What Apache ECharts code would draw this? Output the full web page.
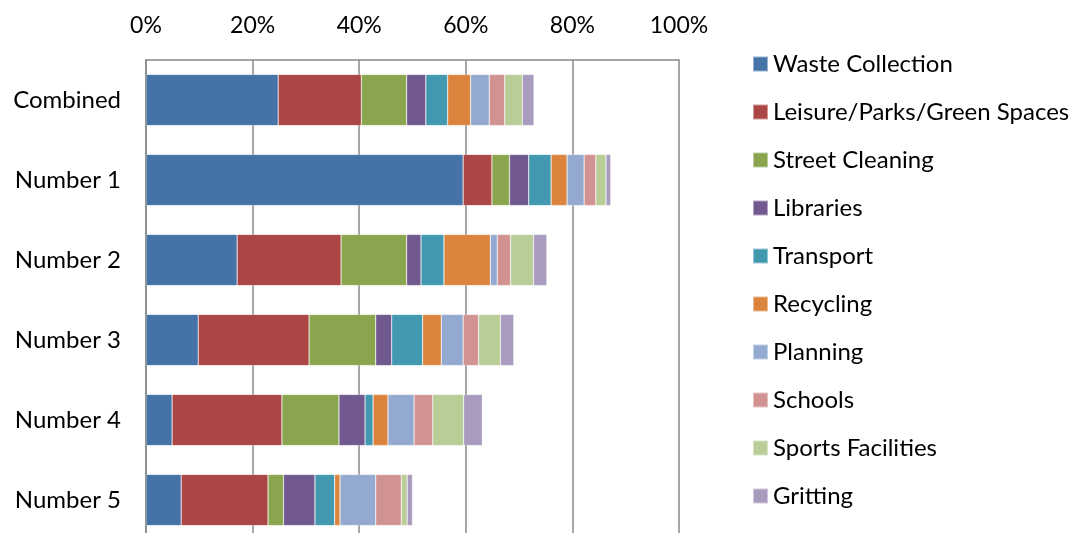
<!DOCTYPE html>
<html>
<head>
<meta charset="utf-8">
<script src="https://cdn.jsdelivr.net/npm/echarts@6/dist/echarts.min.js"></script>
<style>
  html, body { margin: 0; padding: 0; background: #ffffff; overflow: hidden; }
  /* a bit taller than the window: the last bar is cut off at the bottom, as in the original */
  #chart { width: 1077px; height: 545px; }
</style>
</head>
<body>
<div id="chart"></div>
<script>
  // categories, top to bottom
  const categories = ['Combined', 'Number 1', 'Number 2', 'Number 3', 'Number 4', 'Number 5'];
  const serviceNames = ['Waste Collection', 'Leisure/Parks/Green Spaces', 'Street Cleaning', 'Libraries',
    'Transport', 'Recycling', 'Planning', 'Schools', 'Sports Facilities', 'Gritting'];

  // percentages per service, in category order
  const wasteCollection = [24.8, 59.5, 17.1, 9.8, 4.9, 6.6];
  const leisure = [15.6, 5.4, 19.5, 20.8, 20.6, 16.3];
  const streetCleaning = [8.5, 3.3, 12.3, 12.5, 10.7, 2.9];
  const libraries = [3.6, 3.6, 2.7, 3.0, 4.9, 5.9];
  const transport = [4.1, 4.2, 4.3, 5.8, 1.5, 3.7];
  const recycling = [4.3, 3.0, 8.7, 3.5, 2.8, 1.0];
  const planning = [3.5, 3.2, 1.3, 4.1, 4.9, 6.7];
  const schools = [2.9, 2.2, 2.5, 2.9, 3.5, 4.8];
  const sportsFacilities = [3.3, 1.9, 4.3, 4.1, 5.8, 1.1];
  const gritting = [2.2, 0.9, 2.5, 2.5, 3.5, 1.0];

  const xTicks = [0, 20, 40, 60, 80, 100];

  const seriesValues = [wasteCollection, leisure, streetCleaning, libraries, transport,
    recycling, planning, schools, sportsFacilities, gritting];

  const colors = ['#4572A7', '#AA4643', '#89A54E', '#71588F', '#4198AF',
    '#DB843D', '#93A9CF', '#D19392', '#B9CD96', '#A99BBD'];

  const font = 'Lato, "Open Sans", sans-serif';

  const chart = echarts.init(document.getElementById('chart'));

  const option = {
    animation: false,
    color: colors,
    textStyle: { fontFamily: font },
    grid: { left: 146, top: 60, right: 398, bottom: 5, containLabel: false },
    legend: {
      orient: 'vertical',
      left: 752,
      top: 52,
      padding: 0,
      itemWidth: 15,
      itemHeight: 15,
      itemGap: 24,
      icon: 'rect',
      textStyle: { fontSize: 24, color: '#000000', fontFamily: font, lineHeight: 24 },
      data: serviceNames
    },
    xAxis: {
      type: 'value',
      position: 'top',
      min: xTicks[0],
      max: xTicks[xTicks.length - 1],
      interval: 20,
      axisLine: { show: true, lineStyle: { color: '#888888', width: 1.5 } },
      axisTick: { show: false },
      axisLabel: {
        margin: 23,
        fontSize: 23,
        color: '#000000',
        fontFamily: font,
        formatter: '{value}%'
      },
      splitLine: { show: true, lineStyle: { color: '#888888', width: 1.5 } }
    },
    yAxis: {
      type: 'category',
      inverse: true,
      data: categories,
      axisLine: { show: true, lineStyle: { color: '#888888', width: 1.5 } },
      axisTick: { show: false },
      axisLabel: { margin: 25, fontSize: 24, color: '#000000', fontFamily: font }
    },
    series: serviceNames.map(function(name, i) {
      return {
        name: name,
        type: 'bar',
        stack: 'total',
        barCategoryGap: '36%',
        itemStyle: { borderColor: 'rgba(255,255,255,0.45)', borderWidth: 0.6 },
        data: seriesValues[i]
      };
    })
  };

  chart.setOption(option);
</script>
</body>
</html>
